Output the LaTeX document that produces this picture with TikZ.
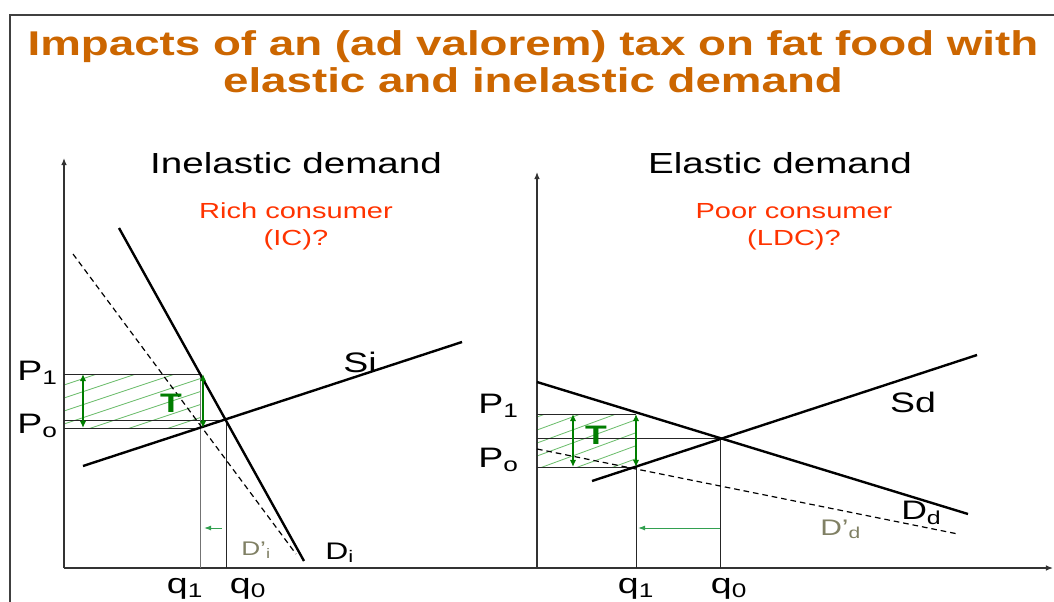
\documentclass[tikz,border=0pt]{standalone}
\usepackage{fontspec}
\setmainfont[FakeStretch=1.33]{Liberation Sans}
\usetikzlibrary{arrows.meta,positioning}
\definecolor{titleorange}{RGB}{204,102,0}
\definecolor{notered}{RGB}{255,51,0}
\definecolor{taxgreen}{RGB}{0,125,0}
\definecolor{hatchgreen}{RGB}{110,190,110}
\definecolor{shiftgreen}{RGB}{50,160,80}
\definecolor{olivegray}{RGB}{128,128,100}

\begin{document}
\begin{tikzpicture}[x=0.71pt, y=-0.71pt,
  frame/.style={draw=black!75, line width=1.4pt},
  axis/.style={draw=black!80, line width=0.9pt},
  curve/.style={line width=1.7pt},
  shifted/.style={line width=0.85pt, dash pattern=on 4pt off 2.8pt},
  guide/.style={line width=0.6pt, black!85},
  taxarrow/.style={taxgreen, line width=1.2pt, {Latex[length=5pt,width=4.5pt]}-{Latex[length=5pt,width=4.5pt]}},
  shiftarrow/.style={shiftgreen, line width=0.7pt, -{Latex[length=5pt,width=3.5pt]}},
  hatch/.style={hatchgreen, line width=0.6pt},
  titlefont/.style={font=\fontsize{24.4}{27}\selectfont\bfseries, text=titleorange, inner sep=0pt},
  headfont/.style={font=\fontsize{20.6}{24}\selectfont, inner sep=0pt},
  notefont/.style={font=\fontsize{15.5}{18.5}\selectfont, text=notered, inner sep=0pt},
  lbl/.style={font=\fontsize{20}{22}\selectfont, inner sep=0pt}]

\useasboundingbox (0,0) rectangle (1054,601);
\draw[frame] (10,615) |- (1070,15);

% Titolo
\node[titlefont, anchor=base] (title1) at (533,55) {Impacts of an (ad valorem) tax on fat food with};
\node[titlefont, anchor=base] (title2) at (533,92.5) {elastic and inelastic demand};

% Pannello sinistro (domanda anelastica)
\coordinate (O1) at (64,568);
\coordinate (Y1) at (64,158);
\coordinate (X1) at (537,568);
\coordinate (Di0) at (119,228);
\coordinate (Di1) at (304,561);
\coordinate (Dpi0) at (73,254);
\coordinate (Dpi1) at (296,554);
\coordinate (Si0) at (83,466);
\coordinate (Si1) at (462,342);
\coordinate (E0i) at (226,420);
\coordinate (E1i) at (200,374);
\coordinate (Bi) at (200,428);

\begin{scope}
\clip (64,374) rectangle (Bi);
\foreach \k in {0,...,8}
  \draw[hatch] (64,{476-13*\k}) -- ++(150,-50);
\end{scope}

\draw[axis, -{Latex[length=5pt,width=4pt]}] (O1) -- (Y1);
\draw[axis] (O1) -- (X1);
\draw[guide] (E1i -| O1) -- (E1i);
\draw[guide] (E0i -| O1) -- (E0i);
\draw[guide] (Bi -| O1) -- (Bi);
\draw[guide, black!55] (E1i) -- (E1i |- O1);
\draw[guide] (E0i) -- (E0i |- O1);

\draw[shifted] (Dpi0) -- (Dpi1);
\draw[curve] (Di0) -- (Di1);
\draw[curve] (Si0) -- (Si1);

\draw[taxarrow] (83,374) -- (83,428);
\draw[taxarrow] (203,374) -- (203,428);
\draw[shiftarrow] (222,528) -- (204,528);

\node[headfont, anchor=base] (headi) at (296,173) {Inelastic demand};
\node[notefont, anchor=base, align=center] (notei) at (296,245) {Rich consumer\\(IC)?};
\node[lbl, font=\fontsize{19}{22}\selectfont\bfseries, text=taxgreen] (Ti) at (171,403) {T};
\node[lbl, anchor=base] (Sil) at (360,372) {Si};
\node[lbl, anchor=base west, font=\fontsize{17}{20}\selectfont] (Dil) at (325,559) {D\textsubscript{i}};
\node[lbl, anchor=base west, font=\fontsize{14}{17}\selectfont, text=olivegray] (Dpil) at (241,555) {D’\textsubscript{i}};
\node[lbl, anchor=base west] (P1i) at (17,380) {P\textsubscript{1}};
\node[lbl, anchor=base west] (Poi) at (17,433) {P\textsubscript{o}};
\node[lbl, anchor=base] (q1i) at (185,593) {q\textsubscript{1}};
\node[lbl, anchor=base] (q0i) at (248,593) {q\textsubscript{0}};

% Pannello destro (domanda elastica)
\coordinate (O2) at (537,568);
\coordinate (Y2) at (537,172);
\coordinate (X2) at (1053,568);
\coordinate (Dd0) at (537,382);
\coordinate (Dd1) at (968,514);
\coordinate (Dpd0) at (537,449);
\coordinate (Dpd1) at (958,534);
\coordinate (Sd0) at (592,481);
\coordinate (Sd1) at (977,355);
\coordinate (E0d) at (720,438);
\coordinate (E1d) at (636,414);
\coordinate (Bd) at (636,467);

\begin{scope}
\clip (537,414) rectangle (Bd);
\foreach \k in {0,...,8}
  \draw[hatch] (537,{508-13*\k}) -- ++(120,-44);
\end{scope}

\draw[axis, -{Latex[length=5pt,width=4pt]}] (O2) -- (Y2);
\draw[axis, -{Latex[length=5pt,width=4pt]}] (O2) -- (X2);
\draw[guide] (E1d -| O2) -- (E1d);
\draw[guide] (E0d -| O2) -- (E0d);
\draw[guide] (Bd -| O2) -- (Bd);
\draw[guide] (Bd) -- (Bd |- O2);
\draw[guide] (E0d) -- (E0d |- O2);

\draw[shifted] (Dpd0) -- (Dpd1);
\draw[curve] (Dd0) -- (Dd1);
\draw[curve] (Sd0) -- (Sd1);

\draw[taxarrow] (573,414) -- (573,467);
\draw[taxarrow] (636,414) -- (636,467);
\draw[shiftarrow] (720,528) -- (638,528);

\node[headfont, anchor=base] (headd) at (780,173) {Elastic demand};
\node[notefont, anchor=base, align=center] (noted) at (794,245) {Poor consumer\\(LDC)?};
\node[lbl, font=\fontsize{19}{22}\selectfont\bfseries, text=taxgreen] (Td) at (596,435) {T};
\node[lbl, anchor=base] (Sdl) at (913,412) {Sd};
\node[lbl, anchor=base west, font=\fontsize{19}{22}\selectfont] (Ddl) at (901,519) {D\textsubscript{d}};
\node[lbl, anchor=base west, font=\fontsize{16}{19}\selectfont, text=olivegray] (Dpdl) at (820,535) {D’\textsubscript{d}};
\node[lbl, anchor=base west] (P1d) at (478,413) {P\textsubscript{1}};
\node[lbl, anchor=base west] (Pod) at (478,467) {P\textsubscript{o}};
\node[lbl, anchor=base] (q1d) at (636,593) {q\textsubscript{1}};
\node[lbl, anchor=base] (q0d) at (729,593) {q\textsubscript{0}};

\end{tikzpicture}
\end{document}
